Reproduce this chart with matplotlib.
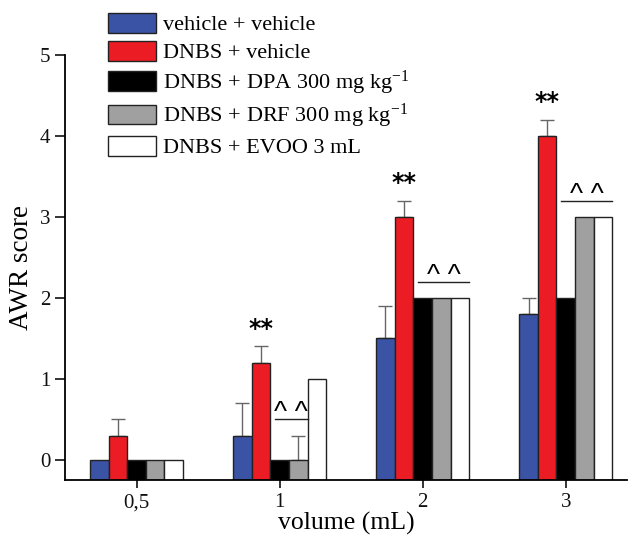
import matplotlib
matplotlib.use("Agg")
import matplotlib.pyplot as plt
import numpy as np

# ---- data ----
categories = ["0,5", "1", "2", "3"]
series_names = ["vehicle + vehicle", "DNBS + vehicle",
                r"DNBS + DPA 300 mg kg$^{-1}$", r"DNBS + DRF 300 mg kg$^{-1}$",
                "DNBS + EVOO 3 mL"]
veh_veh = [0.0, 0.3, 1.5, 1.8]
dnbs_veh = [0.3, 1.2, 3.0, 4.0]
dnbs_dpa = [0.0, 0.0, 2.0, 2.0]
dnbs_drf = [0.0, 0.0, 2.0, 3.0]
dnbs_evoo = [0.0, 1.0, 2.0, 3.0]
err_veh_veh = [0.0, 0.4, 0.4, 0.2]
err_dnbs_veh = [0.2, 0.2, 0.2, 0.2]
err_dnbs_dpa = [0.0, 0.0, 0.0, 0.0]
err_dnbs_drf = [0.0, 0.3, 0.0, 0.0]
err_dnbs_evoo = [0.0, 0.0, 0.0, 0.0]
star_groups = [1, 2, 3]          # groups with ** over DNBS+vehicle
caret_groups = [1, 2, 3]         # groups with ^^
caret_last_series = [3, 4, 4]    # last series index covered by ^^ line

values = [veh_veh, dnbs_veh, dnbs_dpa, dnbs_drf, dnbs_evoo]
errors = [err_veh_veh, err_dnbs_veh, err_dnbs_dpa, err_dnbs_drf, err_dnbs_evoo]
colors = ["#3a53a4", "#ec1c24", "#000000", "#a0a0a0", "#ffffff"]

plt.rcParams["font.family"] = ["Liberation Serif", "DejaVu Serif"]
plt.rcParams["mathtext.fontset"] = "custom"
plt.rcParams["mathtext.rm"] = "Liberation Serif"
plt.rcParams["mathtext.it"] = "Liberation Serif:italic"

fig = plt.figure(figsize=(6.29, 5.35), dpi=100)
ax = fig.add_axes([0.1033, 0.1028, 0.894, 0.794])

ymin, ymax = -0.25, 5.0
x = np.arange(len(categories))
w = 0.13
n = len(values)
for i, (vals, errs, c) in enumerate(zip(values, errors, colors)):
    pos = x + (i - (n - 1) / 2) * w
    v = np.array(vals)
    ax.bar(pos, v - ymin, bottom=ymin, width=w, color=c, edgecolor="#222222",
           linewidth=1.0, label=series_names[i], zorder=2)
    e = np.array(errs)
    m = e > 0
    if m.any():
        ax.errorbar(pos[m], v[m], yerr=[np.zeros(m.sum()), e[m]], fmt="none",
                    ecolor="#666666", elinewidth=1.0, capsize=5, capthick=1.0,
                    zorder=1)

# ** annotations
for g in star_groups:
    pos = x[g] + (1 - (n - 1) / 2) * w
    top = dnbs_veh[g] + err_dnbs_veh[g]
    ax.text(pos, top + 0.07, "**", ha="center", va="bottom",
            fontsize=17, fontweight="bold", family="DejaVu Sans")

# ^^ annotations
for g, last in zip(caret_groups, caret_last_series):
    tops = [values[s][g] + errors[s][g] for s in range(2, last + 1)]
    yl = max(tops) + 0.2
    x0 = x[g] + (2 - (n - 1) / 2) * w - w * 0.25
    x1 = x[g] + (last - (n - 1) / 2) * w + w * 0.5
    ax.plot([x0, x1], [yl, yl], color="#222222", lw=1.0)
    ax.text((x0 + x1) / 2, yl - 0.01, "^ ^", ha="center", va="baseline",
            fontsize=20, family="Liberation Sans")

ax.set_xlim(-0.5, 3.43)
ax.set_ylim(ymin, ymax)
ax.set_xticks(x)
ax.set_xticklabels(categories)
ax.set_yticks(range(0, 6))
ax.tick_params(axis="both", labelsize=15, direction="out", width=1.2,
               colors="#111111")
ax.tick_params(axis="y", length=7)
ax.tick_params(axis="x", length=6)
for s in ["top", "right"]:
    ax.spines[s].set_visible(False)
for s in ["left", "bottom"]:
    ax.spines[s].set_linewidth(1.3)
ax.spines["left"].set_bounds(ymin, 5)

ax.set_ylabel("AWR score", fontsize=19.5, labelpad=4)
ax.set_xlabel("volume (mL)", fontsize=18.5, labelpad=0)

leg = fig.legend(loc="upper left", bbox_to_anchor=(0.172, 0.976),
                 frameon=False, fontsize=16, handlelength=2.15,
                 handleheight=1.0, labelspacing=0.24, handletextpad=0.3,
                 borderaxespad=0, borderpad=0)

fig.savefig("out.png", dpi=100)
